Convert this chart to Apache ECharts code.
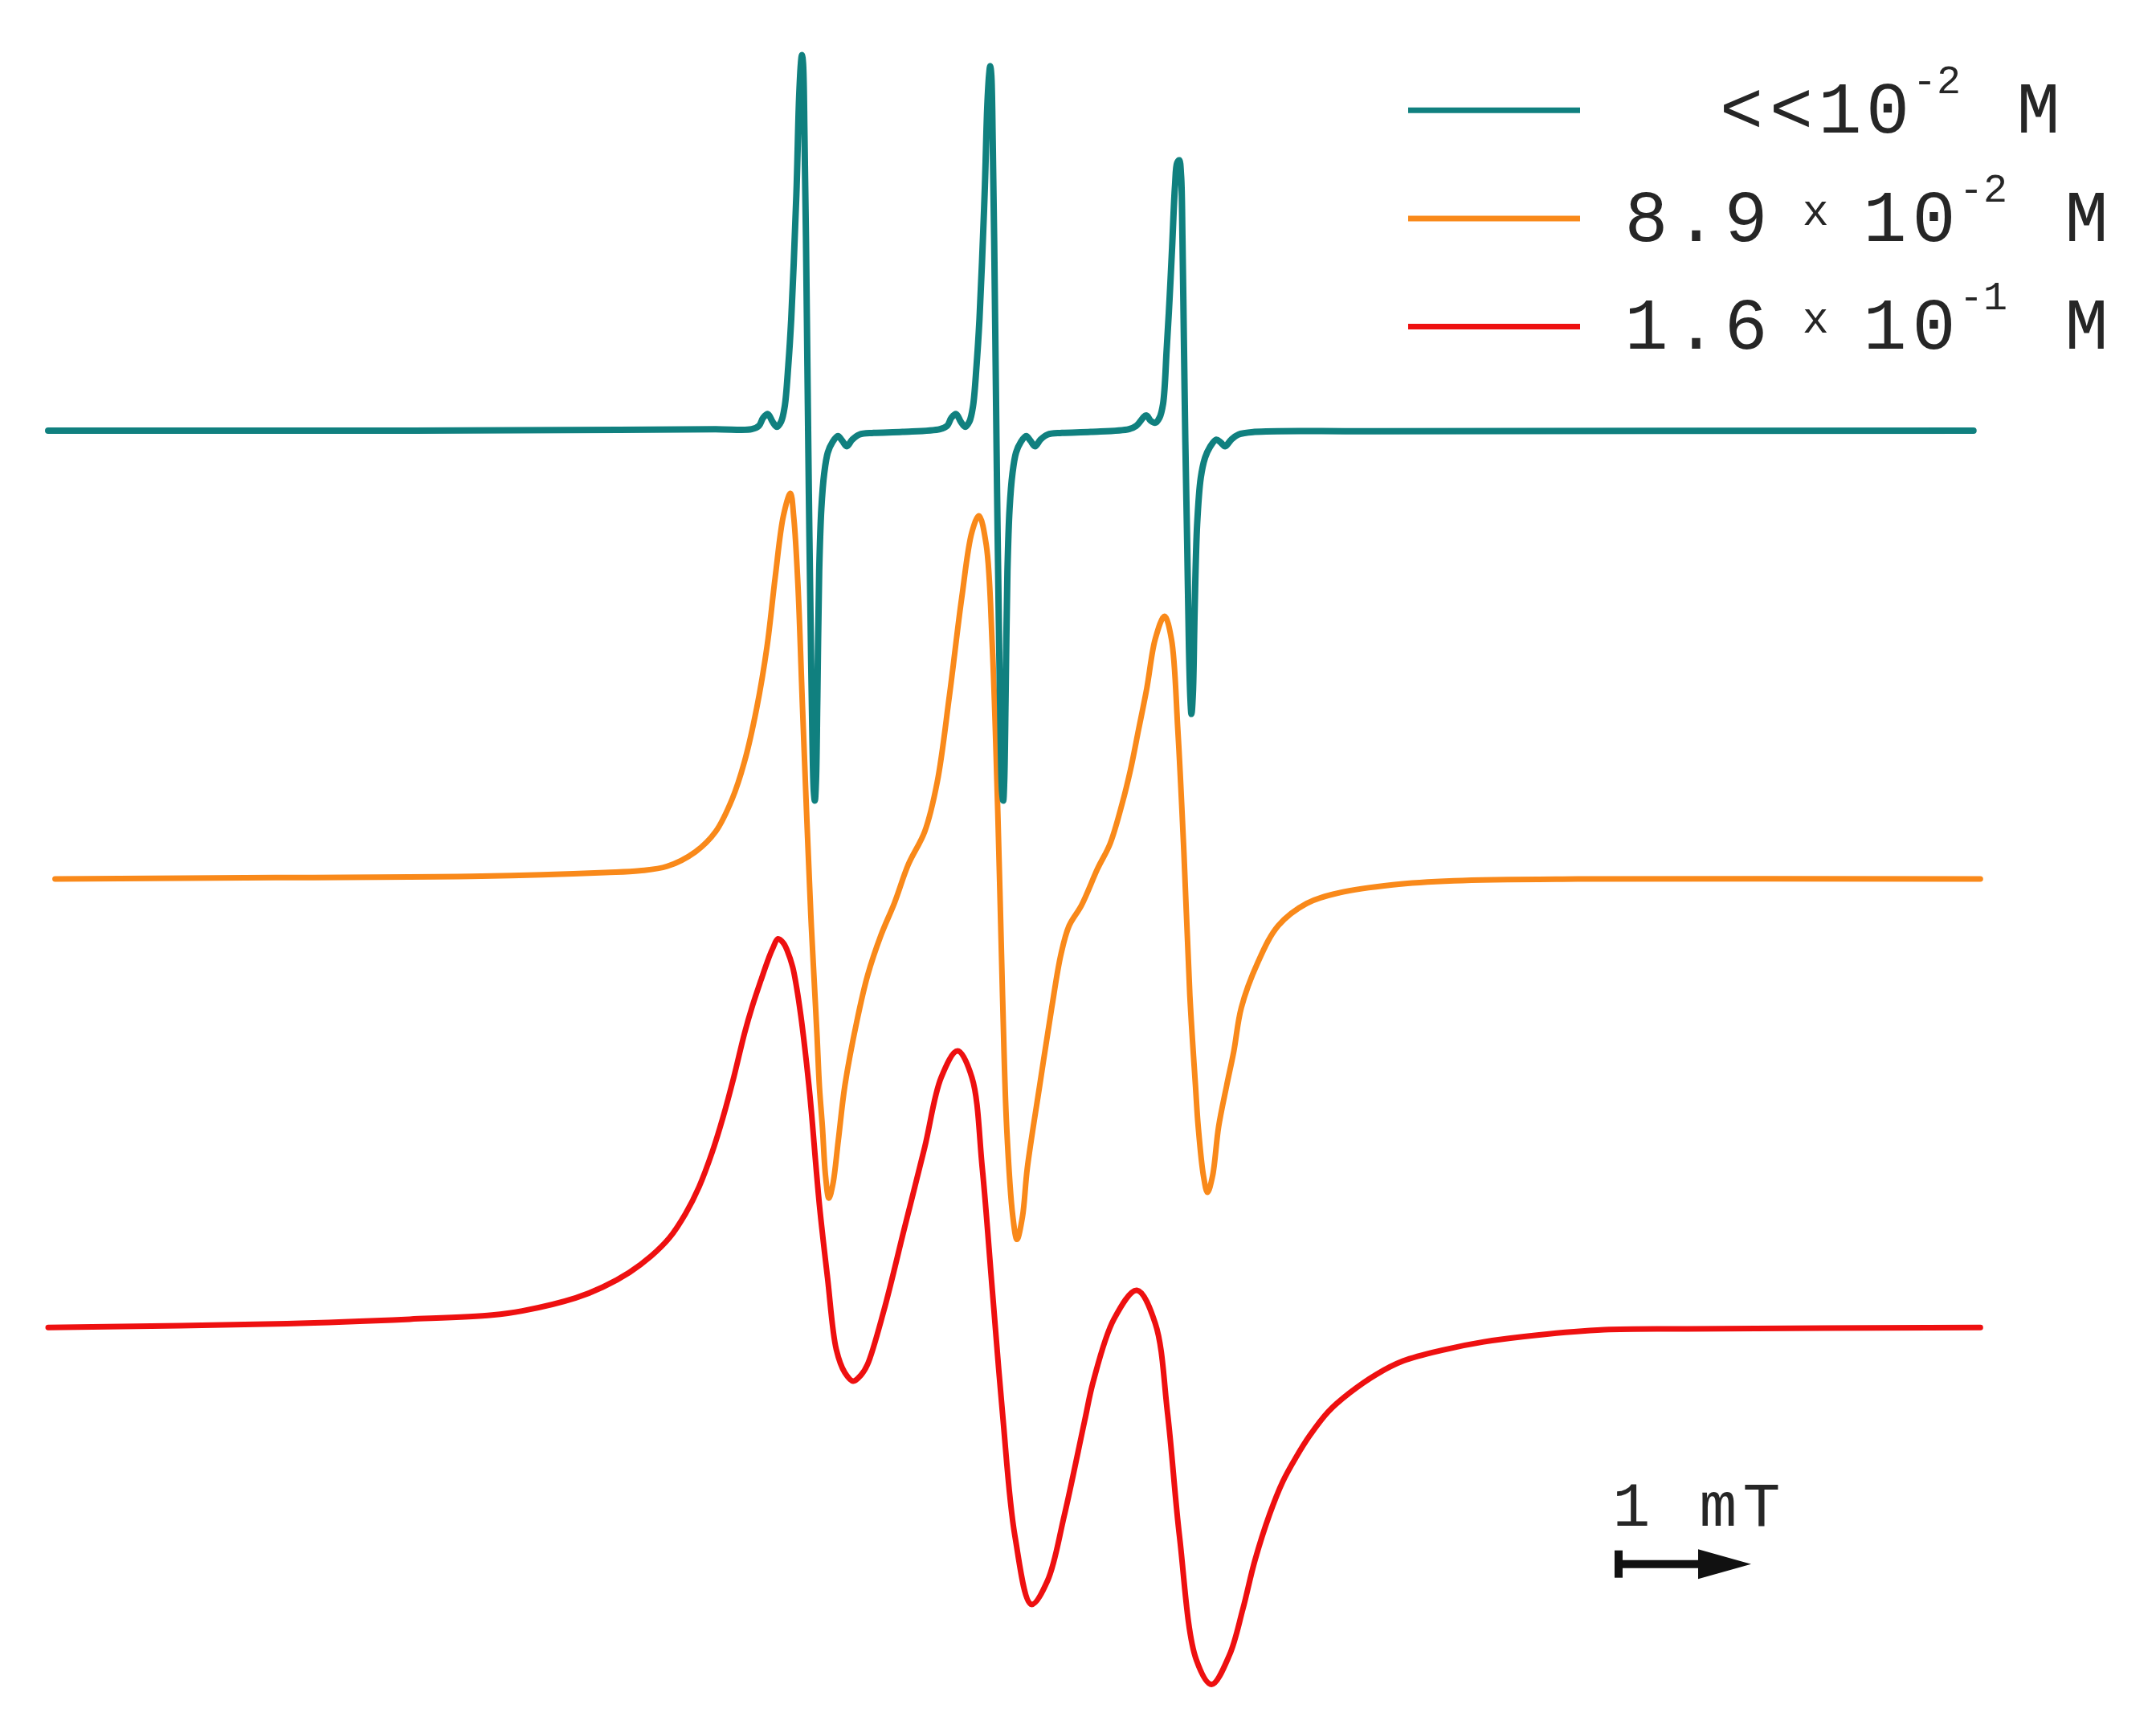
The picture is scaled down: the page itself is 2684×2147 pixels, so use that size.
<!DOCTYPE html>
<html>
<head>
<meta charset="utf-8">
<script src="https://cdn.jsdelivr.net/npm/echarts@6/dist/echarts.min.js"></script>
<style>html,body{margin:0;padding:0;background:#fff}#c{width:2684px;height:2147px}</style>
</head>
<body>
<div id="c"></div>
<script>
// Field axis in mT (relative), signal in arbitrary units (baseline = 0)
const seriesNames = ['<<10-2 M', '8.9 x 10-2 M', '1.6 x 10-1 M'];
const seriesColors = ['#10807f', '#f9891a', '#ee1010'];

const dilute = [
  [0,0],[2.749,0],[4.305,0.5],[5.031,1],[5.307,1],[5.362,3.5],[5.394,9.4],[5.429,12],[5.464,6.4],[5.497,2.7],[5.529,6.5],[5.556,17.6],[5.583,47.4],[5.605,81],[5.624,122],[5.646,178],[5.664,241],[5.678,267],[5.686,273],[5.694,267],[5.705,215],[5.716,141],[5.727,47],[5.738,-46],[5.751,-139],[5.765,-225],[5.775,-262],[5.783,-269],[5.792,-254],[5.802,-195],[5.816,-102],[5.832,-57],[5.854,-31],[5.881,-16],[5.916,-8.5],[5.957,-4],[5.989,-7.3],[6.024,-11.4],[6.065,-6.6],[6.119,-2.9],[6.227,-1.7],[6.444,-1],
  [6.727,1],[6.782,3.5],[6.814,9.4],[6.849,12],[6.884,6.4],[6.917,2.7],[6.949,6.5],[6.976,17.6],[7.003,47.4],[7.025,81],[7.044,122],[7.066,178],[7.084,236],[7.098,259],[7.106,265],[7.114,259],[7.125,210],[7.136,138],[7.147,47],[7.158,-46],[7.171,-139],[7.185,-225],[7.195,-262],[7.204,-269],[7.212,-254],[7.222,-195],[7.236,-102],[7.252,-57],[7.274,-31],[7.301,-16],[7.336,-8.5],[7.377,-4],[7.409,-7.3],[7.444,-11.4],[7.485,-6.6],[7.539,-2.9],[7.647,-1.7],[7.864,-1],
  [8.153,1],[8.208,3.5],[8.283,11],[8.316,7.2],[8.351,5.7],[8.383,9.4],[8.410,19.5],[8.437,58.6],[8.459,95.9],[8.478,133],[8.500,178],[8.516,194.6],[8.532,196.5],[8.546,185],[8.556,140.6],[8.567,66],[8.578,-8.4],[8.592,-83],[8.605,-157.5],[8.616,-194.8],[8.624,-206],[8.635,-191],[8.648,-131.4],[8.667,-68],[8.694,-34.5],[8.727,-19.6],[8.762,-12.2],[8.811,-6.6],[8.843,-8.5],[8.878,-11.4],[8.924,-6.6],[8.978,-2.9],[9.100,-1],[10.0,-0.5],[14.523,0]
];

const medium = [
  [0.052,0],[1.712,1],[3.268,2],[4.201,4.7],[4.461,6],[4.668,9.2],[4.881,19.7],[5.035,34.5],[5.160,58.3],[5.252,85.2],[5.344,124],[5.422,168.7],[5.484,219.3],[5.546,264],[5.599,280.4],[5.625,262],[5.655,215],[5.690,125],[5.720,50],[5.748,-15],[5.757,-34.8],[5.778,-73.7],[5.799,-112.7],[5.818,-151.6],[5.840,-180],[5.864,-216],[5.889,-232],[5.919,-222],[5.960,-190],[6.010,-150],[6.101,-103],[6.182,-69.8],[6.283,-40.6],[6.384,-17.3],[6.489,10.7],[6.612,34.5],[6.706,70.3],[6.798,133],[6.891,204.3],[6.968,252.2],[7.021,264],[7.076,243],[7.122,168.7],[7.163,49.5],[7.199,-84.7],[7.230,-180],[7.277,-245.7],[7.308,-262],[7.349,-245.7],[7.386,-210],[7.479,-150.3],[7.570,-93.6],[7.639,-55],[7.701,-34],[7.795,-19],[7.917,7.7],[8.010,25.6],[8.103,55.4],[8.164,79.3],[8.226,109],[8.288,139],[8.351,174.5],[8.421,191],[8.473,174.5],[8.521,109],[8.567,19.7],[8.612,-84.7],[8.654,-149.7],[8.675,-180],[8.715,-216],[8.745,-227.8],[8.783,-216],[8.829,-180],[8.890,-150],[8.944,-125],[9.000,-93.6],[9.123,-61],[9.278,-34],[9.494,-17.7],[9.740,-10],[10.143,-4.2],[10.606,-1.3],[11.535,0],[14.575,0]
];

const concentrated = [
  [0,0],[1.801,2.8],[2.728,6],[3.348,9],[3.576,12],[3.980,21.5],[4.183,29.3],[4.384,40],[4.546,51.7],[4.687,65.3],[4.808,82.8],[4.910,102.3],[5.010,127.8],[5.091,153],[5.172,182],[5.253,214],[5.313,234],[5.375,252],[5.435,268.5],[5.465,275.5],[5.505,282.5],[5.546,279.5],[5.576,273.7],[5.616,262],[5.647,246.4],[5.677,227],[5.707,203.6],[5.738,176.3],[5.757,157],[5.818,88.7],[5.879,36],[5.945,-16],[6.009,-32.8],[6.072,-39],[6.133,-34.4],[6.180,-27],[6.303,12],[6.457,71.4],[6.612,131],[6.736,181.7],[6.860,201],[6.968,181.7],[7.046,116],[7.122,27],[7.199,-62.6],[7.293,-152],[7.417,-201.3],[7.539,-184],[7.664,-137],[7.818,-68],[7.884,-39],[8.039,6],[8.212,27],[8.351,3],[8.444,-62.6],[8.534,-152],[8.660,-241.4],[8.776,-259.5],[8.910,-238.3],[9.011,-205],[9.101,-170],[9.213,-136],[9.313,-112],[9.414,-94.2],[9.516,-78.6],[9.657,-61.1],[9.818,-47.5],[10.021,-34],[10.222,-24.3],[10.526,-16.3],[10.829,-10.5],[11.232,-5.6],[11.738,-1.7],[12.365,-1],[14.575,0]
];

// scale bar: 1 mT
const scaleBarStart = 11.846;
const scaleBarLength = 1;
const scaleLabel = '1 mT';

const chart = echarts.init(document.getElementById('c'));
const FONT = '"Liberation Mono", "DejaVu Sans Mono", monospace';
const TXT = '#262626';
const cell = (w, padL) => ({fontSize: 90, fontFamily: FONT, color: TXT, lineHeight: 104,
  width: w, align: 'center', padding: [8, 0, 0, padL || 0]});

const legendRich = {
  a0: cell(62, 165), a: cell(62), o1: cell(59), o2: cell(60),
  n0: cell(62, 46.5), n: cell(62),
  x: {fontSize: 55, fontFamily: FONT, color: TXT, lineHeight: 48, width: 111.5, align: 'center', padding: [0, 0, 13.4, 0]},
  t1: cell(61), t2: cell(61),
  s: {fontSize: 50, fontFamily: FONT, color: TXT, lineHeight: 43.4, width: 62, align: 'center', padding: [0, 0, 68.6, 0]},
  m: cell(62, 66.5), m1: cell(62, 64.5)
};

function legendText(name) {
  if (name === seriesNames[0]) {
    return '{a0|<}{a|<}{o1|1}{o2|0}{s|-2}{m1|M}';
  }
  const parts = name.split(' ');           // e.g. ['8.9','x','10-2','M']
  const mant = parts[0].split('');
  const exp = parts[2].replace('10', '');
  return '{n0|' + mant[0] + '}{n|' + mant[1] + '}{n|' + mant[2] + '}{x|x}{t1|1}{t2|0}{s|' + exp + '}{m|M}';
}

// centripetal Catmull-Rom curve through the projected data points (pixel space)
function curvePath(p) {
  const f = v => v.toFixed(2);
  let s = 'M' + f(p[0][0]) + ' ' + f(p[0][1]);
  for (let i = 0; i < p.length - 1; i++) {
    const p0 = p[i - 1] || p[i], p1 = p[i], p2 = p[i + 1], p3 = p[i + 2] || p[i + 1];
    const d1 = Math.hypot(p1[0] - p0[0], p1[1] - p0[1]);
    const d2 = Math.hypot(p2[0] - p1[0], p2[1] - p1[1]);
    const d3 = Math.hypot(p3[0] - p2[0], p3[1] - p2[1]);
    const d1a = Math.sqrt(d1), d2a = Math.sqrt(d2), d3a = Math.sqrt(d3);
    let b1, b2;
    if (d1 < 1e-6) b1 = p1;
    else b1 = [0, 1].map(k => (d1 * p2[k] - d2 * p0[k] + (2 * d1 + 3 * d1a * d2a + d2) * p1[k]) / (3 * d1a * (d1a + d2a)));
    if (d3 < 1e-6) b2 = p2;
    else b2 = [0, 1].map(k => (d3 * p1[k] - d2 * p3[k] + (2 * d3 + 3 * d3a * d2a + d2) * p2[k]) / (3 * d3a * (d3a + d2a)));
    s += ' C' + f(b1[0]) + ' ' + f(b1[1]) + ' ' + f(b2[0]) + ' ' + f(b2[1]) + ' ' + f(p2[0]) + ' ' + f(p2[1]);
  }
  return s;
}

const mk = (i, data, w) => ({
  name: seriesNames[i], type: 'custom', data: data, yAxisIndex: i,
  encode: {x: 0, y: 1},
  itemStyle: {color: seriesColors[i]},
  silent: true, z: 3 - i,
  renderItem: function (params, api) {
    if (params.dataIndex !== 0) return null;
    const pts = data.map(d => api.coord(d));
    return {
      type: 'path', silent: true,
      shape: {pathData: curvePath(pts)},
      style: {fill: 'none', stroke: seriesColors[i], lineWidth: w, lineCap: 'round', lineJoin: 'round'}
    };
  }
});

const scaleChars = scaleLabel.split('');
const scaleRichText = scaleChars.map(c => '{c|' + c + '}').join('');

chart.setOption({
  animation: false,
  backgroundColor: '#ffffff',
  grid: {left: 60, right: 0, top: 0, bottom: 0, containLabel: false},
  xAxis: {type: 'value', min: 0, max: 15.9, show: false},
  yAxis: [
    {type: 'value', min: -941, max: 313, show: false},
    {type: 'value', min: -615, max: 639, show: false},
    {type: 'value', min: -289, max: 965, show: false}
  ],
  legend: {
    data: seriesNames, orient: 'vertical', left: 1753, top: 78,
    itemWidth: 214, itemHeight: 7, itemGap: 16, icon: 'rect', padding: 0,
    selectedMode: false,
    formatter: legendText,
    textStyle: {rich: legendRich}
  },
  series: [
    mk(0, dilute, 8),
    mk(1, medium, 7),
    mk(2, concentrated, 7),
    {
      name: 'scale', type: 'line', yAxisIndex: 2, silent: true, z: 10,
      data: [
        {value: [scaleBarStart, -172], symbol: 'rect', symbolSize: [10, 34]},
        {value: [scaleBarStart + scaleBarLength * 0.8, -172], symbol: 'triangle', symbolSize: [37, 66], symbolRotate: -90}
      ],
      showSymbol: true,
      lineStyle: {color: '#111', width: 10},
      itemStyle: {color: '#111'},
      label: {show: false}
    }
  ],
  graphic: [
    {type: 'text', x: 2004, y: 1878, silent: true,
     style: {text: scaleRichText, fill: TXT, align: 'left', verticalAlign: 'middle',
       textAlign: 'left', textVerticalAlign: 'middle',
       rich: {c: {fontSize: 78, fontFamily: FONT, color: TXT, width: 54, align: 'center', lineHeight: 80}}}}
  ]
});
</script>
</body>
</html>
